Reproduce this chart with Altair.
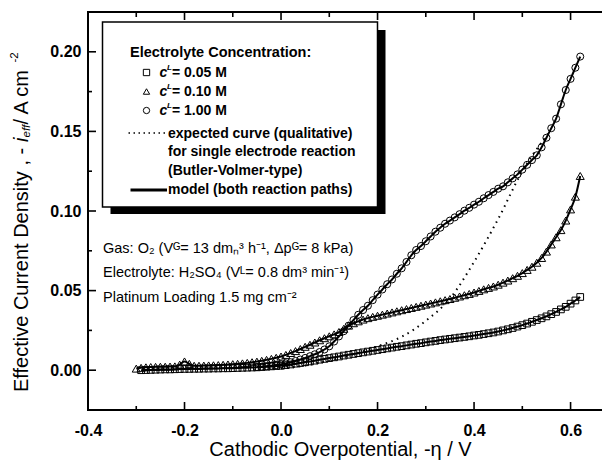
import altair as alt
import pandas as pd

# ---------------- data ----------------
x_c100 = [-0.05, -0.04, -0.03, -0.02, -0.01, 0.00, 0.01, 0.02, 0.03, 0.04, 0.05, 0.06, 0.07, 0.08, 0.09,
          0.10, 0.11, 0.12, 0.13, 0.14, 0.15, 0.16, 0.17, 0.18, 0.19, 0.20, 0.21, 0.22, 0.23, 0.24,
          0.25, 0.26, 0.27, 0.28, 0.29, 0.30, 0.31, 0.32, 0.33, 0.34, 0.35, 0.36, 0.37, 0.38, 0.39,
          0.40, 0.41, 0.42, 0.43, 0.44, 0.45, 0.46, 0.47, 0.48, 0.49, 0.50, 0.51, 0.52, 0.53, 0.54,
          0.55, 0.56, 0.57, 0.58, 0.59, 0.60, 0.61, 0.62]
y_c100 = [0.0020, 0.0022, 0.0025, 0.0028, 0.0032, 0.0037, 0.0043, 0.0050, 0.0058, 0.0067, 0.0077, 0.0088,
          0.0100, 0.0114, 0.0130, 0.0150, 0.0180, 0.0212, 0.0245, 0.0280, 0.0315, 0.0348, 0.0378, 0.0405,
          0.0440, 0.0475, 0.0507, 0.0540, 0.0570, 0.0606, 0.0640, 0.0680, 0.0722, 0.0755, 0.0780, 0.0810,
          0.0840, 0.0870, 0.0895, 0.0920, 0.0940, 0.0960, 0.0980, 0.1002, 0.1020, 0.1040, 0.1058, 0.1080,
          0.1100, 0.1120, 0.1140, 0.1155, 0.1180, 0.1205, 0.1230, 0.1260, 0.1290, 0.1320, 0.1350, 0.1400,
          0.1460, 0.1520, 0.1580, 0.1670, 0.1760, 0.1830, 0.1900, 0.1970]

x_c010 = [-0.30, -0.29, -0.28, -0.27, -0.26, -0.25, -0.24, -0.23, -0.22, -0.21, -0.20, -0.19, -0.18, -0.17,
          -0.16, -0.15, -0.14, -0.13, -0.12, -0.11, -0.10, -0.09, -0.08, -0.07, -0.06, -0.05, -0.04, -0.03,
          -0.02, -0.01, 0.00, 0.01, 0.02, 0.03, 0.04, 0.05, 0.06, 0.07, 0.08, 0.09, 0.10, 0.11, 0.12, 0.13,
          0.14, 0.15, 0.16, 0.17, 0.18, 0.19, 0.20, 0.21, 0.22, 0.23, 0.24, 0.25, 0.26, 0.27, 0.28, 0.29,
          0.30, 0.31, 0.32, 0.33, 0.34, 0.35, 0.36, 0.37, 0.38, 0.39, 0.40, 0.41, 0.42, 0.43, 0.44, 0.45,
          0.46, 0.47, 0.48, 0.49, 0.50, 0.51, 0.52, 0.53, 0.54, 0.55, 0.56, 0.57, 0.58, 0.59, 0.60, 0.61, 0.62]
y_c010 = [0.0010, 0.0015, 0.0018, 0.0020, 0.0021, 0.0022, 0.0022, 0.0023, 0.0024, 0.0035, 0.0055, 0.0040,
          0.0028, 0.0028, 0.0029, 0.0030, 0.0031, 0.0032, 0.0034, 0.0036, 0.0038, 0.0040, 0.0043, 0.0046,
          0.0050, 0.0054, 0.0059, 0.0065, 0.0071, 0.0078, 0.0086, 0.0096, 0.0108, 0.0120, 0.0133, 0.0147,
          0.0160, 0.0174, 0.0188, 0.0201, 0.0213, 0.0225, 0.0240, 0.0260, 0.0280, 0.0295, 0.0307, 0.0318,
          0.0327, 0.0335, 0.0342, 0.0349, 0.0356, 0.0363, 0.0370, 0.0377, 0.0384, 0.0391, 0.0398, 0.0405,
          0.0412, 0.0419, 0.0426, 0.0433, 0.0440, 0.0447, 0.0455, 0.0463, 0.0471, 0.0479, 0.0488, 0.0498,
          0.0508, 0.0517, 0.0526, 0.0537, 0.0550, 0.0563, 0.0578, 0.0593, 0.0610, 0.0630, 0.0650, 0.0675,
          0.0705, 0.0745, 0.0790, 0.0835, 0.0880, 0.0940, 0.1010, 0.1090, 0.1220]

x_c005 = [-0.29, -0.28, -0.27, -0.26, -0.25, -0.24, -0.23, -0.22, -0.21, -0.20, -0.19, -0.18, -0.17, -0.16,
          -0.15, -0.14, -0.13, -0.12, -0.11, -0.10, -0.09, -0.08, -0.07, -0.06, -0.05, -0.04, -0.03, -0.02,
          -0.01, 0.00, 0.01, 0.02, 0.03, 0.04, 0.05, 0.06, 0.07, 0.08, 0.09, 0.10, 0.11, 0.12, 0.13, 0.14,
          0.15, 0.16, 0.17, 0.18, 0.19, 0.20, 0.21, 0.22, 0.23, 0.24, 0.25, 0.26, 0.27, 0.28, 0.29, 0.30,
          0.31, 0.32, 0.33, 0.34, 0.35, 0.36, 0.37, 0.38, 0.39, 0.40, 0.41, 0.42, 0.43, 0.44, 0.45, 0.46,
          0.47, 0.48, 0.49, 0.50, 0.51, 0.52, 0.53, 0.54, 0.55, 0.56, 0.57, 0.58, 0.59, 0.60, 0.61, 0.62]
y_c005 = [0.0000, 0.0001, 0.0002, 0.0003, 0.0004, 0.0005, 0.0005, 0.0006, 0.0007, 0.0008, 0.0008, 0.0009,
          0.0009, 0.0010, 0.0010, 0.0011, 0.0011, 0.0012, 0.0012, 0.0013, 0.0014, 0.0015, 0.0016, 0.0017,
          0.0018, 0.0020, 0.0022, 0.0024, 0.0026, 0.0028, 0.0032, 0.0036, 0.0041, 0.0045, 0.0050, 0.0055,
          0.0060, 0.0066, 0.0071, 0.0076, 0.0081, 0.0086, 0.0092, 0.0097, 0.0102, 0.0107, 0.0112, 0.0117,
          0.0122, 0.0127, 0.0132, 0.0137, 0.0142, 0.0147, 0.0151, 0.0156, 0.0161, 0.0166, 0.0170, 0.0175,
          0.0180, 0.0184, 0.0189, 0.0193, 0.0197, 0.0201, 0.0205, 0.0209, 0.0213, 0.0218, 0.0222, 0.0227,
          0.0232, 0.0237, 0.0243, 0.0250, 0.0257, 0.0265, 0.0274, 0.0283, 0.0293, 0.0304, 0.0315, 0.0326,
          0.0338, 0.0352, 0.0366, 0.0382, 0.0398, 0.0418, 0.0438, 0.0460]

x_bv = [0.00, 0.05, 0.10, 0.15, 0.20, 0.25, 0.30, 0.35, 0.40, 0.45, 0.50, 0.555]
y_bv = [0.001, 0.003, 0.006, 0.010, 0.015, 0.021, 0.031, 0.045, 0.068, 0.095, 0.125, 0.149]

x_major = [-0.2, 0.0, 0.2, 0.4, 0.6]
x_minor = [-0.3, -0.1, 0.1, 0.3, 0.5]
y_major = [0.00, 0.05, 0.10, 0.15, 0.20]
y_minor = [0.025, 0.075, 0.125, 0.175]
x_labels = [-0.4, -0.2, 0.0, 0.2, 0.4, 0.6]

# ---------------- layout ----------------
W, H = 526, 398
FONT = "Liberation Sans"
xs = alt.Scale(domain=[-0.4, 0.69], nice=False, zero=False)
ys = alt.Scale(domain=[-0.025, 0.225], nice=False, zero=False)

d100 = pd.DataFrame({"x": x_c100, "y": y_c100})
d010 = pd.DataFrame({"x": x_c010, "y": y_c010})
d005 = pd.DataFrame({"x": x_c005, "y": y_c005})
dbv = pd.DataFrame({"x": x_bv, "y": y_bv})
one = alt.Data(values=[{"k": 0}])

base_x = alt.X("x:Q", scale=xs, axis=alt.Axis(
    values=x_labels, domain=False, ticks=False, tickSize=0, grid=False,
    labelExpr="(datum.value < -0.001 ? '-' : '') + format(abs(datum.value), '.1f')",
    labelFont=FONT, labelFontSize=16, labelFontWeight="bold", labelColor="black",
    labelPadding=12, labelFlush=False,
    title="Cathodic Overpotential,  -\u03b7 / V", titleFont=FONT, titleFontSize=20,
    titleFontWeight="normal", titleColor="black", titleX=252, titleY=45,
    titleBaseline="alphabetic", titleAlign="center"))
base_y = alt.Y("y:Q", scale=ys, axis=alt.Axis(
    values=y_major, domain=False, ticks=False, tickSize=0, grid=False,
    labelExpr="format(datum.value, '.2f')",
    labelFont=FONT, labelFontSize=16, labelFontWeight="bold", labelColor="black",
    labelPadding=7, title=None))

layers = []

# dotted Butler-Volmer curve
layers.append(alt.Chart(dbv).mark_line(color="black", strokeWidth=2, strokeDash=[1.5, 4.5],
                                       interpolate="monotone"))
# model lines
for d in (d100, d010, d005):
    layers.append(alt.Chart(d).mark_line(color="black", strokeWidth=2, interpolate="monotone"))
# markers
for d, shp, sz in ((d100, "circle", 50), (d010, "triangle-up", 65), (d005, "square", 45)):
    layers.append(alt.Chart(d).mark_point(shape=shp, filled=False, color="black", size=sz,
                                          strokeWidth=1, opacity=1))

# inward ticks
def tick_layer(vals, axis, length):
    m = alt.Chart(pd.DataFrame({"x" if axis in ("bottom", "top") else "y": vals})).mark_rule(
        color="black", strokeWidth=1.6)
    if axis == "bottom":
        return m.encode(y=alt.value(H - length), y2=alt.value(H))
    if axis == "top":
        return m.encode(y=alt.value(0), y2=alt.value(length))
    if axis == "left":
        return m.encode(x=alt.value(0), x2=alt.value(length))
    return m.encode(x=alt.value(W - length), x2=alt.value(W))

layers += [tick_layer(x_major, "bottom", 8), tick_layer(x_minor, "bottom", 4),
           tick_layer(x_major, "top", 8), tick_layer(x_minor, "top", 5),
           tick_layer(y_major, "left", 8), tick_layer(y_minor, "left", 4)]

# legend box with shadow
layers.append(alt.Chart(one).mark_rect(color="black").encode(
    x=alt.value(22.5), x2=alt.value(297.5), y=alt.value(18), y2=alt.value(202)))
layers.append(alt.Chart(one).mark_rect(fill="white", stroke="black", strokeWidth=1.5).encode(
    x=alt.value(14.5), x2=alt.value(289.5), y=alt.value(10), y2=alt.value(195)))

def txt(s, x, y, size=14, weight="bold", style="normal", align="left", angle=0, baseline="middle"):
    return alt.Chart(one).mark_text(text=s, font=FONT, fontSize=size, fontWeight=weight,
                                    fontStyle=style, align=align, baseline=baseline, angle=angle,
                                    color="black").encode(x=alt.value(x), y=alt.value(y))

layers.append(txt("Electrolyte Concentration:", 42, 41, size=14.5))
conc = ["0.05", "0.10", "1.00"]
shapes = ["square", "triangle-up", "circle"]
rows_y = [60.5, 79.5, 98.5]
for cval, shp, ry in zip(conc, shapes, rows_y):
    layers.append(alt.Chart(one).mark_point(shape=shp, filled=False, color="black", size=40,
                                            strokeWidth=1, opacity=1)
                  .encode(x=alt.value(58.5), y=alt.value(ry)))
    layers.append(txt("c", 71.5, ry, style="italic"))
    layers.append(txt("L", 79, ry - 5, size=8, style="italic"))
    layers.append(txt("= " + cval + " M", 84, ry))

layers.append(alt.Chart(one).mark_rule(color="black", strokeWidth=1.6, strokeDash=[1.5, 3.5]).encode(
    x=alt.value(40.5), x2=alt.value(78.5), y=alt.value(121)))
layers.append(txt("expected curve (qualitative)", 80, 122))
layers.append(txt("for single electrode reaction", 80, 140))
layers.append(txt("(Butler-Volmer-type)", 80, 159))
layers.append(alt.Chart(one).mark_rule(color="black", strokeWidth=3).encode(
    x=alt.value(42.5), x2=alt.value(79), y=alt.value(178)))
layers.append(txt("model (both reaction paths)", 80, 178))

# operating conditions
layers.append(txt("Gas: O\u2082 (V\u1d33= 13 dm\u2099\u00b3 h\u207b\u00b9, \u0394p\u1d33= 8 kPa)", 15, 237,
                  size=14.5, weight="normal"))
layers.append(txt("Electrolyte: H\u2082SO\u2084 (V\u1d38= 0.8 dm\u00b3 min\u207b\u00b9)", 15, 261,
                  size=14.5, weight="normal"))
layers.append(txt("Platinum Loading 1.5 mg cm\u207b\u00b2", 15, 286, size=14.5, weight="normal"))

# y-axis title (rotated, composed of pieces)
TX = -66
layers.append(txt("Effective Current Density ,  -", TX, 380, size=20, weight="normal", angle=270))
layers.append(txt("i", TX, 130, size=20, weight="normal", style="italic", angle=270))
layers.append(txt("eff", TX + 5, 125.5, size=11.5, weight="normal", style="italic", angle=270))
layers.append(txt(" / A cm", TX, 112.5, size=20, weight="normal", angle=270))
layers.append(txt("-2", TX - 7, 50.5, size=11.5, weight="normal", angle=270))

chart = alt.layer(*layers).encode(x=base_x, y=base_y).properties(
    width=W, height=H,
    autosize=alt.AutoSizeParams(type="none"),
    padding={"left": 80, "top": 4, "right": -12, "bottom": 50},
).configure_view(stroke="black", strokeWidth=2)

chart.save("out.html", embed_options={"renderer": "svg", "actions": False})
